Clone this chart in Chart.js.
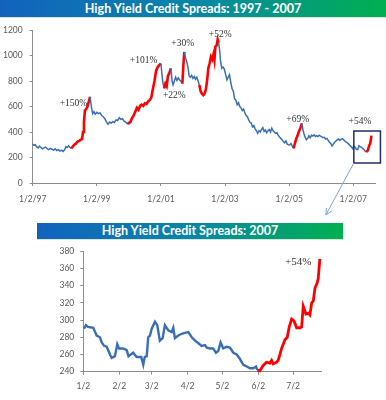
<!DOCTYPE html>
<html>
<head>
<meta charset="utf-8">
<script src="https://cdn.jsdelivr.net/npm/chart.js"></script>
<style>
  body { margin: 0; background: #fff; }
  #page { position: relative; width: 386px; height: 400px; overflow: hidden; }
  .banner {
    position: absolute;
    color: #fff;
    font-family: Lato, sans-serif;
    font-weight: bold;
    text-align: center;
    background: linear-gradient(to right, #1262bd, #0a86a8 50%, #00b050);
    border-bottom: 1px solid #d8e8d8;
  }
  #b1 { left: 0; top: 0; width: 386px; height: 17px; line-height: 17px; font-size: 12.5px; }
  #b2 { left: 37px; top: 223px; width: 306px; height: 16px; line-height: 16px; font-size: 12.5px; }
  #c1wrap { position: absolute; left: 0; top: 18px; width: 386px; height: 202px; }
  #c2wrap { position: absolute; left: 0; top: 240px; width: 386px; height: 160px; }
</style>
</head>
<body>
<div id="page">
  <div class="banner" id="b1">High Yield Credit Spreads: 1997 - 2007</div>
  <div id="c1wrap"><canvas id="top"></canvas></div>
  <div class="banner" id="b2">High Yield Credit Spreads: 2007</div>
  <div id="c2wrap"><canvas id="bottom"></canvas></div>
</div>
<script>
// ---- 1997 - 2007 spreads (x = year fraction, y = bp)
const topYears = [
  1997.00, 1997.04, 1997.08, 1997.12, 1997.17, 1997.21, 1997.25, 1997.30, 1997.35, 1997.40,
  1997.45, 1997.50, 1997.55, 1997.60, 1997.65, 1997.70, 1997.75, 1997.80, 1997.85, 1997.90,
  1997.95, 1998.00, 1998.04, 1998.08, 1998.12, 1998.16, 1998.20, 1998.25, 1998.30, 1998.35,
  1998.40, 1998.45, 1998.50, 1998.54, 1998.57, 1998.60, 1998.63, 1998.67, 1998.71, 1998.75,
  1998.79, 1998.83, 1998.87, 1998.91, 1998.95, 1999.00, 1999.05, 1999.10, 1999.15, 1999.20,
  1999.25, 1999.30, 1999.35, 1999.40, 1999.45, 1999.50, 1999.55, 1999.60, 1999.65, 1999.70,
  1999.75, 1999.80, 1999.85, 1999.90, 1999.95, 2000.00, 2000.05, 2000.10, 2000.15, 2000.20,
  2000.25, 2000.30, 2000.35, 2000.40, 2000.45, 2000.50, 2000.55, 2000.60, 2000.65, 2000.70,
  2000.75, 2000.80, 2000.85, 2000.90, 2000.95, 2001.00, 2001.03, 2001.06, 2001.10, 2001.14,
  2001.18, 2001.22, 2001.26, 2001.31, 2001.35, 2001.38, 2001.42, 2001.46, 2001.50, 2001.54,
  2001.58, 2001.62, 2001.67, 2001.70, 2001.73, 2001.77, 2001.81, 2001.85, 2001.88, 2001.92,
  2001.96, 2002.00, 2002.04, 2002.08, 2002.12, 2002.16, 2002.20, 2002.24, 2002.28, 2002.32,
  2002.36, 2002.40, 2002.44, 2002.48, 2002.52, 2002.56, 2002.60, 2002.64, 2002.67, 2002.70,
  2002.74, 2002.77, 2002.80, 2002.83, 2002.86, 2002.90, 2002.94, 2002.98, 2003.02, 2003.06,
  2003.10, 2003.14, 2003.18, 2003.22, 2003.26, 2003.30, 2003.34, 2003.38, 2003.42, 2003.46,
  2003.50, 2003.54, 2003.58, 2003.62, 2003.66, 2003.70, 2003.74, 2003.78, 2003.82, 2003.86,
  2003.90, 2003.94, 2003.98, 2004.02, 2004.06, 2004.10, 2004.14, 2004.18, 2004.22, 2004.26,
  2004.30, 2004.34, 2004.38, 2004.42, 2004.46, 2004.50, 2004.54, 2004.58, 2004.62, 2004.66,
  2004.70, 2004.74, 2004.78, 2004.82, 2004.86, 2004.90, 2004.94, 2004.98, 2005.02, 2005.06,
  2005.10, 2005.14, 2005.18, 2005.22, 2005.26, 2005.30, 2005.35, 2005.40, 2005.43, 2005.46,
  2005.50, 2005.54, 2005.58, 2005.62, 2005.66, 2005.70, 2005.74, 2005.78, 2005.82, 2005.86,
  2005.90, 2005.94, 2005.98, 2006.02, 2006.06, 2006.10, 2006.14, 2006.18, 2006.22, 2006.26,
  2006.30, 2006.34, 2006.38, 2006.42, 2006.46, 2006.50, 2006.54, 2006.58, 2006.62, 2006.66,
  2006.70, 2006.74, 2006.78, 2006.82, 2006.86, 2006.90, 2006.94, 2006.98, 2007.02, 2007.06,
  2007.10, 2007.14, 2007.18, 2007.22, 2007.26, 2007.30, 2007.34, 2007.38, 2007.42, 2007.46,
  2007.50, 2007.53, 2007.57
];
const topSpread = [
  305, 295, 300, 285, 275, 290, 280, 268, 275, 282,
  270, 262, 272, 265, 258, 268, 255, 262, 250, 258,
  248, 262, 285, 278, 292, 280, 272, 285, 300, 310,
  325, 330, 340, 345, 400, 480, 570, 580, 600, 640,
  677, 600, 545, 560, 540, 555, 545, 550, 530, 520,
  505, 480, 462, 478, 470, 482, 475, 495, 490, 512,
  500, 505, 485, 478, 465, 470, 480, 510, 530, 560,
  590, 575, 605, 615, 605, 625, 620, 640, 650, 670,
  740, 800, 880, 910, 925, 938, 860, 790, 742, 780,
  760, 840, 860, 900, 800, 770, 800, 830, 805, 825,
  810, 800, 780, 920, 1029, 980, 950, 900, 840, 830,
  845, 820, 835, 815, 830, 800, 770, 720, 700, 690,
  700, 730, 800, 900, 940, 990, 970, 1010, 965, 1070,
  1080, 1126, 1100, 1050, 960, 900, 910, 895, 850, 810,
  830, 850, 790, 740, 720, 660, 650, 615, 630, 600,
  590, 570, 580, 550, 530, 520, 495, 475, 470, 440,
  450, 425, 410, 390, 410, 400, 420, 435, 405, 415,
  395, 410, 420, 400, 430, 410, 400, 390, 395, 375,
  360, 350, 340, 325, 315, 330, 305, 300, 298, 310,
  290, 272, 310, 345, 370, 400, 430, 468, 420, 390,
  360, 340, 350, 370, 355, 375, 368, 378, 365, 372,
  365, 375, 368, 362, 355, 358, 345, 350, 335, 320,
  310, 290, 305, 320, 330, 338, 345, 335, 342, 348,
  340, 330, 320, 315, 305, 295, 285, 270, 290, 280,
  265, 262, 292, 285, 280, 270, 262, 248, 242, 260,
  295, 310, 372
];
// widening periods drawn in red: [from, to]
const topRedPeriods = [
  [1998.20, 1998.79], [1999.95, 2001.00], [2001.10, 2001.31], [2001.67, 2001.73],
  [2002.20, 2002.80], [2005.14, 2005.40], [2007.42, 2007.57]
];
const topTickYears = [1997, 1999, 2001, 2003, 2005, 2007];
const topTickLabels = ["1/2/97", "1/2/99", "1/2/01", "1/2/03", "1/2/05", "1/2/07"];
const topNoteText = ["+150%", "+101%", "+22%", "+30%", "+52%", "+69%", "+54%"];
const topNoteYear = [1998.27, 2000.46, 2001.42, 2001.68, 2002.85, 2005.27, 2007.21];
const topNoteValue = [627, 964, 690, 1095, 1168, 502, 481];
// zoom box around 2007 (years / bp)
const zoomBox = [2007.02, 2007.85, 157, 408];

// ---- 2007 spreads (x = day of year, 1 = Jan 2)
const ytdDays = [
  1.6, 3.3, 5, 9.6, 12.5, 15.4, 16.9, 19, 21.2, 24,
  25.5, 28.3, 30.3, 31.8, 35.5, 38.4, 40, 44, 47, 51,
  52.7, 54, 55.7, 57, 58.5, 60, 62.8, 64.8, 67, 69.4,
  71.4, 74.3, 77.2, 78.6, 80, 83, 85.9, 88.7, 91.6, 94.5,
  97.4, 100.3, 103, 106, 107.5, 110.4, 113, 115.4, 117.4, 119.4,
  121.7, 124.6, 127.5, 130.4, 133.3, 136, 139, 142, 144.7, 147.6,
  150, 151, 153.3, 156, 159, 162, 163.4, 164.8, 167.7, 169,
  170.6, 172, 174.9, 176.9, 178.6, 180.7, 182.7, 185, 187.8, 189.3,
  190.7, 193, 195, 196.4, 198, 199.3, 200.8, 202.7, 203.6, 205
];
const ytdSpread = [
  290, 294, 292, 291, 282, 280, 274, 270, 269, 260,
  256, 258, 272, 267, 267, 265, 258, 262, 257, 257,
  248, 257, 258, 280, 282, 290, 298, 294, 276, 279,
  294, 288, 286, 291, 279, 282, 284, 285, 286, 280,
  276, 273, 270, 271, 268, 267, 267, 262, 264, 274,
  267, 269, 268, 262, 260, 255, 248, 246, 244, 244,
  246, 242, 241, 247, 251, 250, 253, 249, 251, 253,
  260, 267, 277, 280, 292, 301, 299, 291, 291, 292,
  316, 307, 308, 306, 320, 322, 337, 343, 348, 371
];
const ytdRedFrom = 151;
const ytdTickDays = [1, 32, 60, 91, 121, 152, 182];
const ytdTickLabels = ["1/2", "2/2", "3/2", "4/2", "5/2", "6/2", "7/2"];
const ytdNoteText = "+54%";
const ytdNoteDay = 186.3;
const ytdNoteValue = 367.5;

const BLUE = "#3a6fb7";
const RED = "#ff0000";
const AXIS = "#8c8c8c";
const tickFont = { family: "Lato, 'Open Sans', sans-serif", size: 8.5 };

function isRed(x0, x1) {
  return topRedPeriods.some(p => x0 >= p[0] - 1e-6 && x1 <= p[1] + 1e-6);
}

const topPoints = topYears.map((y, i) => ({ x: y, y: topSpread[i] }));
const ytdPoints = ytdDays.map((d, i) => ({ x: d, y: ytdSpread[i] }));

const topExtras = {
  id: "topExtras",
  afterDraw(chart) {
    const ctx = chart.ctx;
    const xs = chart.scales.x, ys = chart.scales.y;
    ctx.save();
    ctx.fillStyle = "#333";
    ctx.font = "9.5px 'Liberation Serif', serif";
    ctx.textAlign = "center";
    ctx.textBaseline = "middle";
    topNoteText.forEach((t, i) => {
      ctx.fillText(t, xs.getPixelForValue(topNoteYear[i]), ys.getPixelForValue(topNoteValue[i]));
    });
    // zoom box
    const bx0 = xs.getPixelForValue(zoomBox[0]), bx1 = xs.getPixelForValue(zoomBox[1]);
    const by0 = ys.getPixelForValue(zoomBox[2]), by1 = ys.getPixelForValue(zoomBox[3]);
    ctx.strokeStyle = "#1f2d6e";
    ctx.lineWidth = 1.5;
    ctx.strokeRect(bx0, by1, bx1 - bx0, by0 - by1);
    // connector arrow
    const ex = bx0 - 28, ey = by0 + 52;
    ctx.strokeStyle = "#7f9fd6";
    ctx.lineWidth = 1;
    ctx.beginPath();
    ctx.moveTo(bx0, by0);
    ctx.lineTo(ex, ey);
    ctx.moveTo(ex, ey);
    ctx.lineTo(ex + 0.5, ey - 7);
    ctx.moveTo(ex, ey);
    ctx.lineTo(ex + 6, ey - 4);
    ctx.stroke();
    ctx.restore();
  }
};

new Chart(document.getElementById("top"), {
  type: "line",
  data: {
    datasets: [{
      data: topPoints,
      borderColor: BLUE,
      borderWidth: 1.5,
      pointRadius: 0,
      tension: 0,
      clip: 4,
      segment: {
        borderColor: c => isRed(c.p0.parsed.x, c.p1.parsed.x) ? RED : undefined,
        borderWidth: c => isRed(c.p0.parsed.x, c.p1.parsed.x) ? 2.6 : undefined
      }
    }]
  },
  options: {
    responsive: true,
    maintainAspectRatio: false,
    animation: false,
    layout: { padding: { top: 12, right: 11, left: 0, bottom: 0 } },
    plugins: { legend: { display: false }, tooltip: { enabled: false } },
    scales: {
      x: {
        type: "linear",
        min: 1997,
        max: 2007.68,
        afterBuildTicks: s => { s.ticks = topTickYears.map(v => ({ value: v })); },
        afterFit: s => { s.height = 37; },
        ticks: {
          autoSkip: false,
          maxRotation: 0,
          padding: 8,
          color: "#595959",
          font: tickFont,
          callback: v => topTickLabels[topTickYears.indexOf(v)]
        },
        grid: { drawOnChartArea: false, tickLength: 3, color: AXIS },
        border: { color: AXIS }
      },
      y: {
        min: 0,
        max: 1200,
        afterFit: s => { s.width = 32.7; },
        ticks: { stepSize: 200, padding: 7, color: "#595959", font: tickFont, callback: v => String(v) },
        grid: { drawOnChartArea: false, tickLength: 3, color: AXIS },
        border: { color: AXIS }
      }
    }
  },
  plugins: [topExtras]
});

const ytdExtras = {
  id: "ytdExtras",
  afterDraw(chart) {
    const ctx = chart.ctx;
    ctx.save();
    ctx.fillStyle = "#333";
    ctx.font = "11px 'Liberation Serif', serif";
    ctx.textAlign = "center";
    ctx.textBaseline = "middle";
    ctx.fillText(ytdNoteText, chart.scales.x.getPixelForValue(ytdNoteDay), chart.scales.y.getPixelForValue(ytdNoteValue));
    ctx.restore();
  }
};

new Chart(document.getElementById("bottom"), {
  type: "line",
  data: {
    datasets: [{
      data: ytdPoints,
      borderColor: BLUE,
      borderWidth: 2.4,
      pointRadius: 0,
      tension: 0,
      clip: 4,
      segment: {
        borderColor: c => c.p0.parsed.x >= ytdRedFrom ? RED : undefined,
        borderWidth: c => c.p0.parsed.x >= ytdRedFrom ? 2.8 : undefined
      }
    }]
  },
  options: {
    responsive: true,
    maintainAspectRatio: false,
    animation: false,
    layout: { padding: { top: 9, right: 65, left: 40, bottom: 0 } },
    plugins: { legend: { display: false }, tooltip: { enabled: false } },
    scales: {
      x: {
        type: "linear",
        min: 1,
        max: 206,
        afterBuildTicks: s => { s.ticks = ytdTickDays.map(v => ({ value: v })); },
        afterFit: s => { s.height = 28.3; },
        ticks: {
          autoSkip: false,
          maxRotation: 0,
          padding: 6,
          color: "#595959",
          font: tickFont,
          callback: v => ytdTickLabels[ytdTickDays.indexOf(v)]
        },
        grid: { drawOnChartArea: false, tickLength: 3, color: AXIS },
        border: { color: AXIS }
      },
      y: {
        min: 240,
        max: 380,
        afterFit: s => { s.width = 43.3; },
        ticks: { stepSize: 20, padding: 6, color: "#595959", font: tickFont, callback: v => String(v) },
        grid: { drawOnChartArea: false, tickLength: 3, color: AXIS },
        border: { color: AXIS }
      }
    }
  },
  plugins: [ytdExtras]
});
</script>
</body>
</html>
